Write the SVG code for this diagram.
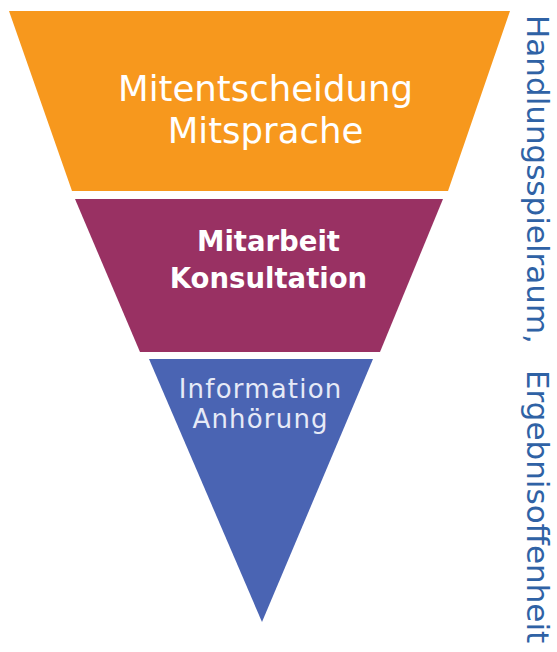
<svg xmlns="http://www.w3.org/2000/svg" width="557" height="652" viewBox="0 0 557 652">
  <style>
    .lbl { font-family: "DejaVu Sans", Verdana, sans-serif; text-anchor: middle; }
    .top { font-size: 35.5px; fill: #ffffff; }
    .mid { font-size: 27.5px; font-weight: bold; fill: #ffffff; }
    .low { font-size: 26px; letter-spacing: 1.2px; fill: #e6eaf7; }
    .side { font-family: "DejaVu Sans", Verdana, sans-serif; font-size: 31px; fill: #2f62a5; }
  </style>
  <rect width="557" height="652" fill="#ffffff"/>

  <!-- top band -->
  <g id="band-top">
    <polygon points="9,11 510,11 448,191 72,191" fill="#f7981d"/>
    <text class="lbl top" x="265.5" y="101">Mitentscheidung</text>
    <text class="lbl top" x="265.5" y="143">Mitsprache</text>
  </g>

  <!-- middle band -->
  <g id="band-middle">
    <polygon points="75,199 443,199 380,352 140,352" fill="#993163"/>
    <text class="lbl mid" x="268.5" y="251">Mitarbeit</text>
    <text class="lbl mid" x="268.5" y="288">Konsultation</text>
  </g>

  <!-- bottom tip -->
  <g id="band-bottom">
    <polygon points="149,359 373,359 262,622" fill="#4a64b3"/>
    <text class="lbl low" x="260.6" y="398">Information</text>
    <text class="lbl low" x="260.6" y="428">Anhörung</text>
  </g>

  <!-- axis caption along the right edge -->
  <g id="caption" transform="translate(527,15) rotate(90)">
    <text class="side" x="0" y="0">Handlungsspielraum,</text>
    <text class="side" x="355" y="0">Ergebnisoffenheit</text>
  </g>
</svg>
